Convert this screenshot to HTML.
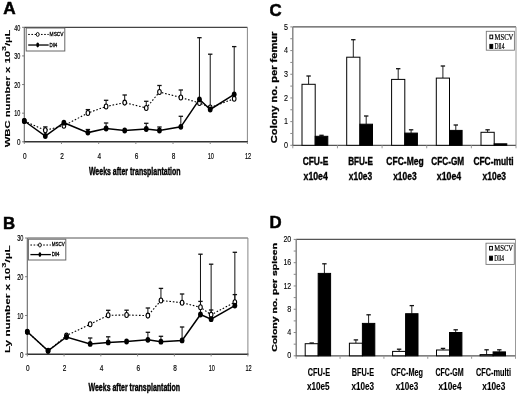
<!DOCTYPE html><html><head><meta charset="utf-8"><title>Figure</title><style>html,body{margin:0;padding:0;background:#fff;}body{width:520px;height:395px;overflow:hidden;}svg{display:block;filter:blur(0.3px);}</style></head><body>
<svg width="520" height="395" viewBox="0 0 520 395">
<rect x="0" y="0" width="520" height="395" fill="#fff"/>
<text x="3.20" y="13.90" font-size="17.2" font-family='"Liberation Sans", sans-serif' fill="#000" font-weight="bold" stroke="#000" stroke-width="0.5">A</text>
<text x="3.00" y="228.60" font-size="16.8" font-family='"Liberation Sans", sans-serif' fill="#000" font-weight="bold" stroke="#000" stroke-width="0.5">B</text>
<text x="269.40" y="15.60" font-size="16.8" font-family='"Liberation Sans", sans-serif' fill="#000" font-weight="bold" stroke="#000" stroke-width="0.5">C</text>
<text x="269.40" y="227.60" font-size="16.8" font-family='"Liberation Sans", sans-serif' fill="#000" font-weight="bold" stroke="#000" stroke-width="0.5">D</text>
<line x1="24.30" y1="27.30" x2="247.40" y2="27.30" stroke="#444" stroke-width="1.3" />
<line x1="247.40" y1="27.30" x2="247.40" y2="141.80" stroke="#888" stroke-width="1.0" />
<line x1="24.30" y1="27.30" x2="24.30" y2="142.30" stroke="#666" stroke-width="1.1" />
<line x1="23.80" y1="141.80" x2="247.90" y2="141.80" stroke="#333" stroke-width="1.4" />
<line x1="22.10" y1="141.80" x2="24.30" y2="141.80" stroke="#777" stroke-width="1" />
<text x="20.40" y="145.10" font-size="9.6" font-family='"Liberation Sans", sans-serif' fill="#000" text-anchor="end" textLength="3.5" lengthAdjust="spacingAndGlyphs" stroke="#000" stroke-width="0.2">0</text>
<line x1="22.10" y1="113.18" x2="24.30" y2="113.18" stroke="#777" stroke-width="1" />
<text x="20.40" y="116.48" font-size="9.6" font-family='"Liberation Sans", sans-serif' fill="#000" text-anchor="end" textLength="6.1" lengthAdjust="spacingAndGlyphs" stroke="#000" stroke-width="0.2">10</text>
<line x1="22.10" y1="84.55" x2="24.30" y2="84.55" stroke="#777" stroke-width="1" />
<text x="20.40" y="87.85" font-size="9.6" font-family='"Liberation Sans", sans-serif' fill="#000" text-anchor="end" textLength="6.1" lengthAdjust="spacingAndGlyphs" stroke="#000" stroke-width="0.2">20</text>
<line x1="22.10" y1="55.92" x2="24.30" y2="55.92" stroke="#777" stroke-width="1" />
<text x="20.40" y="59.22" font-size="9.6" font-family='"Liberation Sans", sans-serif' fill="#000" text-anchor="end" textLength="6.1" lengthAdjust="spacingAndGlyphs" stroke="#000" stroke-width="0.2">30</text>
<line x1="22.10" y1="27.30" x2="24.30" y2="27.30" stroke="#777" stroke-width="1" />
<text x="20.40" y="30.60" font-size="9.6" font-family='"Liberation Sans", sans-serif' fill="#000" text-anchor="end" textLength="6.1" lengthAdjust="spacingAndGlyphs" stroke="#000" stroke-width="0.2">40</text>
<line x1="24.30" y1="141.80" x2="24.30" y2="144.00" stroke="#888" stroke-width="1" />
<text x="24.90" y="158.70" font-size="9.6" font-family='"Liberation Sans", sans-serif' fill="#000" text-anchor="middle" textLength="3.6" lengthAdjust="spacingAndGlyphs" stroke="#000" stroke-width="0.2">0</text>
<line x1="61.48" y1="141.80" x2="61.48" y2="144.00" stroke="#888" stroke-width="1" />
<text x="62.08" y="158.70" font-size="9.6" font-family='"Liberation Sans", sans-serif' fill="#000" text-anchor="middle" textLength="3.6" lengthAdjust="spacingAndGlyphs" stroke="#000" stroke-width="0.2">2</text>
<line x1="98.67" y1="141.80" x2="98.67" y2="144.00" stroke="#888" stroke-width="1" />
<text x="99.27" y="158.70" font-size="9.6" font-family='"Liberation Sans", sans-serif' fill="#000" text-anchor="middle" textLength="3.6" lengthAdjust="spacingAndGlyphs" stroke="#000" stroke-width="0.2">4</text>
<line x1="135.85" y1="141.80" x2="135.85" y2="144.00" stroke="#888" stroke-width="1" />
<text x="136.45" y="158.70" font-size="9.6" font-family='"Liberation Sans", sans-serif' fill="#000" text-anchor="middle" textLength="3.6" lengthAdjust="spacingAndGlyphs" stroke="#000" stroke-width="0.2">6</text>
<line x1="173.03" y1="141.80" x2="173.03" y2="144.00" stroke="#888" stroke-width="1" />
<text x="173.63" y="158.70" font-size="9.6" font-family='"Liberation Sans", sans-serif' fill="#000" text-anchor="middle" textLength="3.6" lengthAdjust="spacingAndGlyphs" stroke="#000" stroke-width="0.2">8</text>
<line x1="210.22" y1="141.80" x2="210.22" y2="144.00" stroke="#888" stroke-width="1" />
<text x="210.82" y="158.70" font-size="9.6" font-family='"Liberation Sans", sans-serif' fill="#000" text-anchor="middle" textLength="6.2" lengthAdjust="spacingAndGlyphs" stroke="#000" stroke-width="0.2">10</text>
<line x1="247.40" y1="141.80" x2="247.40" y2="144.00" stroke="#888" stroke-width="1" />
<text x="248.00" y="158.70" font-size="9.6" font-family='"Liberation Sans", sans-serif' fill="#000" text-anchor="middle" textLength="6.2" lengthAdjust="spacingAndGlyphs" stroke="#000" stroke-width="0.2">12</text>
<text x="88.90" y="175.30" font-size="10.2" font-family='"Liberation Sans", sans-serif' fill="#000" font-weight="bold" textLength="91.6" lengthAdjust="spacingAndGlyphs" stroke="#000" stroke-width="0.4">Weeks after transplantation</text>
<text x="0" y="0" font-size="10.6" font-family='"Liberation Sans", sans-serif' font-weight="bold" stroke="#000" stroke-width="0.15" transform="translate(10.20 88.40) scale(0.7 1) rotate(-90)" text-anchor="middle" textLength="117.8" lengthAdjust="spacingAndGlyphs">WBC number x 10<tspan font-size="8.48" dy="-6.15">3</tspan><tspan dy="6.15">/µL</tspan></text>
<rect x="26.20" y="28.00" width="38.60" height="23.00" fill="#fff" stroke="#666" stroke-width="1"/>
<line x1="28.20" y1="34.44" x2="48.70" y2="34.44" stroke="#000" stroke-width="1" stroke-dasharray="1.6 1.6"/>
<ellipse cx="37.70" cy="34.44" rx="1.4" ry="2.0" fill="#fff" stroke="#000" stroke-width="0.9"/>
<line x1="28.20" y1="45.02" x2="48.70" y2="45.02" stroke="#000" stroke-width="1.3" />
<ellipse cx="37.70" cy="45.02" rx="1.4" ry="2.4" fill="#000"/>
<text x="49.60" y="35.54" font-size="6.2" font-family='"Liberation Sans", sans-serif' fill="#000" textLength="14.0" lengthAdjust="spacingAndGlyphs" stroke="#000" stroke-width="0.3">MSCV</text>
<text x="49.60" y="46.72" font-size="6.2" font-family='"Liberation Sans", sans-serif' fill="#000" textLength="7.6" lengthAdjust="spacingAndGlyphs" stroke="#000" stroke-width="0.3">Dll4</text>
<line x1="45.31" y1="130.30" x2="45.31" y2="126.90" stroke="#111" stroke-width="1.0" />
<line x1="43.11" y1="126.90" x2="47.51" y2="126.90" stroke="#111" stroke-width="1.3" />
<line x1="87.88" y1="113.00" x2="87.88" y2="109.60" stroke="#111" stroke-width="1.0" />
<line x1="85.68" y1="109.60" x2="90.08" y2="109.60" stroke="#111" stroke-width="1.3" />
<line x1="106.10" y1="106.50" x2="106.10" y2="100.30" stroke="#111" stroke-width="1.0" />
<line x1="103.90" y1="100.30" x2="108.30" y2="100.30" stroke="#111" stroke-width="1.3" />
<line x1="124.69" y1="102.60" x2="124.69" y2="95.00" stroke="#111" stroke-width="1.0" />
<line x1="122.49" y1="95.00" x2="126.89" y2="95.00" stroke="#111" stroke-width="1.3" />
<line x1="146.26" y1="108.00" x2="146.26" y2="101.30" stroke="#111" stroke-width="1.0" />
<line x1="144.06" y1="101.30" x2="148.46" y2="101.30" stroke="#111" stroke-width="1.3" />
<line x1="159.46" y1="92.00" x2="159.46" y2="85.50" stroke="#111" stroke-width="1.0" />
<line x1="157.26" y1="85.50" x2="161.66" y2="85.50" stroke="#111" stroke-width="1.3" />
<line x1="180.84" y1="97.50" x2="180.84" y2="90.00" stroke="#111" stroke-width="1.0" />
<line x1="178.64" y1="90.00" x2="183.04" y2="90.00" stroke="#111" stroke-width="1.3" />
<line x1="87.88" y1="132.60" x2="87.88" y2="129.50" stroke="#111" stroke-width="1.0" />
<line x1="85.68" y1="129.50" x2="90.08" y2="129.50" stroke="#111" stroke-width="1.3" />
<line x1="106.10" y1="128.50" x2="106.10" y2="123.00" stroke="#111" stroke-width="1.0" />
<line x1="103.90" y1="123.00" x2="108.30" y2="123.00" stroke="#111" stroke-width="1.3" />
<line x1="146.26" y1="129.00" x2="146.26" y2="123.30" stroke="#111" stroke-width="1.0" />
<line x1="144.06" y1="123.30" x2="148.46" y2="123.30" stroke="#111" stroke-width="1.3" />
<line x1="159.46" y1="130.50" x2="159.46" y2="127.00" stroke="#111" stroke-width="1.0" />
<line x1="157.26" y1="127.00" x2="161.66" y2="127.00" stroke="#111" stroke-width="1.3" />
<line x1="180.84" y1="126.80" x2="180.84" y2="116.30" stroke="#111" stroke-width="1.0" />
<line x1="178.64" y1="116.30" x2="183.04" y2="116.30" stroke="#111" stroke-width="1.3" />
<line x1="199.43" y1="99.30" x2="199.43" y2="37.70" stroke="#111" stroke-width="1.0" />
<line x1="197.23" y1="37.70" x2="201.63" y2="37.70" stroke="#111" stroke-width="1.3" />
<line x1="210.22" y1="109.50" x2="210.22" y2="54.20" stroke="#111" stroke-width="1.0" />
<line x1="208.02" y1="54.20" x2="212.42" y2="54.20" stroke="#111" stroke-width="1.3" />
<line x1="234.20" y1="94.30" x2="234.20" y2="46.60" stroke="#111" stroke-width="1.0" />
<line x1="232.00" y1="46.60" x2="236.40" y2="46.60" stroke="#111" stroke-width="1.3" />
<polyline points="24.30,121.00 45.31,130.30 63.90,125.70 87.88,113.00 106.10,106.50 124.69,102.60 146.26,108.00 159.46,92.00 180.84,97.50 199.43,103.00 210.22,107.50 234.20,98.75" fill="none" stroke="#000" stroke-width="1.1" stroke-dasharray="1.6 1.8"/>
<polyline points="24.30,121.00 45.31,136.00 63.90,122.70 87.88,132.60 106.10,128.50 124.69,130.50 146.26,129.00 159.46,130.50 180.84,126.80 199.43,99.30 210.22,109.50 234.20,94.30" fill="none" stroke="#000" stroke-width="1.5"/>
<ellipse cx="24.30" cy="121.00" rx="1.8" ry="2.5" fill="#fff" stroke="#000" stroke-width="1.1"/>
<ellipse cx="45.31" cy="130.30" rx="1.8" ry="2.5" fill="#fff" stroke="#000" stroke-width="1.1"/>
<ellipse cx="63.90" cy="125.70" rx="1.8" ry="2.5" fill="#fff" stroke="#000" stroke-width="1.1"/>
<ellipse cx="87.88" cy="113.00" rx="1.8" ry="2.5" fill="#fff" stroke="#000" stroke-width="1.1"/>
<ellipse cx="106.10" cy="106.50" rx="1.8" ry="2.5" fill="#fff" stroke="#000" stroke-width="1.1"/>
<ellipse cx="124.69" cy="102.60" rx="1.8" ry="2.5" fill="#fff" stroke="#000" stroke-width="1.1"/>
<ellipse cx="146.26" cy="108.00" rx="1.8" ry="2.5" fill="#fff" stroke="#000" stroke-width="1.1"/>
<ellipse cx="159.46" cy="92.00" rx="1.8" ry="2.5" fill="#fff" stroke="#000" stroke-width="1.1"/>
<ellipse cx="180.84" cy="97.50" rx="1.8" ry="2.5" fill="#fff" stroke="#000" stroke-width="1.1"/>
<ellipse cx="199.43" cy="103.00" rx="1.8" ry="2.5" fill="#fff" stroke="#000" stroke-width="1.1"/>
<ellipse cx="210.22" cy="107.50" rx="1.8" ry="2.5" fill="#fff" stroke="#000" stroke-width="1.1"/>
<ellipse cx="234.20" cy="98.75" rx="1.8" ry="2.5" fill="#fff" stroke="#000" stroke-width="1.1"/>
<ellipse cx="24.30" cy="121.00" rx="2.4" ry="2.9" fill="#000"/>
<ellipse cx="45.31" cy="136.00" rx="2.4" ry="2.9" fill="#000"/>
<ellipse cx="63.90" cy="122.70" rx="2.4" ry="2.9" fill="#000"/>
<ellipse cx="87.88" cy="132.60" rx="2.4" ry="2.9" fill="#000"/>
<ellipse cx="106.10" cy="128.50" rx="2.4" ry="2.9" fill="#000"/>
<ellipse cx="124.69" cy="130.50" rx="2.4" ry="2.9" fill="#000"/>
<ellipse cx="146.26" cy="129.00" rx="2.4" ry="2.9" fill="#000"/>
<ellipse cx="159.46" cy="130.50" rx="2.4" ry="2.9" fill="#000"/>
<ellipse cx="180.84" cy="126.80" rx="2.4" ry="2.9" fill="#000"/>
<ellipse cx="199.43" cy="99.30" rx="2.4" ry="2.9" fill="#000"/>
<ellipse cx="210.22" cy="109.50" rx="2.4" ry="2.9" fill="#000"/>
<ellipse cx="234.20" cy="94.30" rx="2.4" ry="2.9" fill="#000"/>
<line x1="27.30" y1="238.00" x2="247.90" y2="238.00" stroke="#555" stroke-width="1.0" />
<line x1="247.90" y1="238.00" x2="247.90" y2="354.20" stroke="#888" stroke-width="1.0" />
<line x1="27.30" y1="238.00" x2="27.30" y2="354.70" stroke="#666" stroke-width="1.1" />
<line x1="26.80" y1="354.20" x2="248.40" y2="354.20" stroke="#333" stroke-width="1.4" />
<line x1="25.10" y1="354.20" x2="27.30" y2="354.20" stroke="#777" stroke-width="1" />
<text x="23.40" y="357.50" font-size="9.6" font-family='"Liberation Sans", sans-serif' fill="#000" text-anchor="end" textLength="3.5" lengthAdjust="spacingAndGlyphs" stroke="#000" stroke-width="0.2">0</text>
<line x1="25.10" y1="315.47" x2="27.30" y2="315.47" stroke="#777" stroke-width="1" />
<text x="23.40" y="318.77" font-size="9.6" font-family='"Liberation Sans", sans-serif' fill="#000" text-anchor="end" textLength="6.2" lengthAdjust="spacingAndGlyphs" stroke="#000" stroke-width="0.2">10</text>
<line x1="25.10" y1="276.73" x2="27.30" y2="276.73" stroke="#777" stroke-width="1" />
<text x="23.40" y="280.03" font-size="9.6" font-family='"Liberation Sans", sans-serif' fill="#000" text-anchor="end" textLength="6.2" lengthAdjust="spacingAndGlyphs" stroke="#000" stroke-width="0.2">20</text>
<line x1="25.10" y1="238.00" x2="27.30" y2="238.00" stroke="#777" stroke-width="1" />
<text x="23.40" y="241.30" font-size="9.6" font-family='"Liberation Sans", sans-serif' fill="#000" text-anchor="end" textLength="6.2" lengthAdjust="spacingAndGlyphs" stroke="#000" stroke-width="0.2">30</text>
<line x1="27.30" y1="354.20" x2="27.30" y2="356.40" stroke="#888" stroke-width="1" />
<text x="27.90" y="371.10" font-size="9.6" font-family='"Liberation Sans", sans-serif' fill="#000" text-anchor="middle" textLength="3.6" lengthAdjust="spacingAndGlyphs" stroke="#000" stroke-width="0.2">0</text>
<line x1="64.07" y1="354.20" x2="64.07" y2="356.40" stroke="#888" stroke-width="1" />
<text x="64.67" y="371.10" font-size="9.6" font-family='"Liberation Sans", sans-serif' fill="#000" text-anchor="middle" textLength="3.6" lengthAdjust="spacingAndGlyphs" stroke="#000" stroke-width="0.2">2</text>
<line x1="100.83" y1="354.20" x2="100.83" y2="356.40" stroke="#888" stroke-width="1" />
<text x="101.43" y="371.10" font-size="9.6" font-family='"Liberation Sans", sans-serif' fill="#000" text-anchor="middle" textLength="3.6" lengthAdjust="spacingAndGlyphs" stroke="#000" stroke-width="0.2">4</text>
<line x1="137.60" y1="354.20" x2="137.60" y2="356.40" stroke="#888" stroke-width="1" />
<text x="138.20" y="371.10" font-size="9.6" font-family='"Liberation Sans", sans-serif' fill="#000" text-anchor="middle" textLength="3.6" lengthAdjust="spacingAndGlyphs" stroke="#000" stroke-width="0.2">6</text>
<line x1="174.37" y1="354.20" x2="174.37" y2="356.40" stroke="#888" stroke-width="1" />
<text x="174.97" y="371.10" font-size="9.6" font-family='"Liberation Sans", sans-serif' fill="#000" text-anchor="middle" textLength="3.6" lengthAdjust="spacingAndGlyphs" stroke="#000" stroke-width="0.2">8</text>
<line x1="211.13" y1="354.20" x2="211.13" y2="356.40" stroke="#888" stroke-width="1" />
<text x="211.73" y="371.10" font-size="9.6" font-family='"Liberation Sans", sans-serif' fill="#000" text-anchor="middle" textLength="6.2" lengthAdjust="spacingAndGlyphs" stroke="#000" stroke-width="0.2">10</text>
<line x1="247.90" y1="354.20" x2="247.90" y2="356.40" stroke="#888" stroke-width="1" />
<text x="248.50" y="371.10" font-size="9.6" font-family='"Liberation Sans", sans-serif' fill="#000" text-anchor="middle" textLength="6.2" lengthAdjust="spacingAndGlyphs" stroke="#000" stroke-width="0.2">12</text>
<text x="88.50" y="391.20" font-size="10.2" font-family='"Liberation Sans", sans-serif' fill="#000" font-weight="bold" textLength="91.6" lengthAdjust="spacingAndGlyphs" stroke="#000" stroke-width="0.4">Weeks after transplantation</text>
<text x="0" y="0" font-size="10.6" font-family='"Liberation Sans", sans-serif' font-weight="bold" stroke="#000" stroke-width="0.15" transform="translate(10.20 299.20) scale(0.7 1) rotate(-90)" text-anchor="middle" textLength="107.8" lengthAdjust="spacingAndGlyphs">Ly number x 10<tspan font-size="8.48" dy="-6.15">3</tspan><tspan dy="6.15">/µL</tspan></text>
<rect x="28.40" y="239.20" width="37.40" height="20.80" fill="#fff" stroke="#666" stroke-width="1"/>
<line x1="30.40" y1="245.02" x2="50.90" y2="245.02" stroke="#000" stroke-width="1" stroke-dasharray="1.6 1.6"/>
<ellipse cx="39.90" cy="245.02" rx="1.4" ry="2.0" fill="#fff" stroke="#000" stroke-width="0.9"/>
<line x1="30.40" y1="254.59" x2="50.90" y2="254.59" stroke="#000" stroke-width="1.3" />
<ellipse cx="39.90" cy="254.59" rx="1.4" ry="2.4" fill="#000"/>
<text x="51.80" y="246.12" font-size="6.2" font-family='"Liberation Sans", sans-serif' fill="#000" textLength="13.0" lengthAdjust="spacingAndGlyphs" stroke="#000" stroke-width="0.3">MSCV</text>
<text x="51.80" y="255.69" font-size="6.2" font-family='"Liberation Sans", sans-serif' fill="#000" textLength="7.6" lengthAdjust="spacingAndGlyphs" stroke="#000" stroke-width="0.3">Dll4</text>
<line x1="108.19" y1="315.30" x2="108.19" y2="310.30" stroke="#111" stroke-width="1.0" />
<line x1="105.99" y1="310.30" x2="110.39" y2="310.30" stroke="#111" stroke-width="1.3" />
<line x1="126.57" y1="315.00" x2="126.57" y2="310.20" stroke="#111" stroke-width="1.0" />
<line x1="124.37" y1="310.20" x2="128.77" y2="310.20" stroke="#111" stroke-width="1.3" />
<line x1="147.89" y1="315.60" x2="147.89" y2="308.00" stroke="#111" stroke-width="1.0" />
<line x1="145.69" y1="308.00" x2="150.09" y2="308.00" stroke="#111" stroke-width="1.3" />
<line x1="160.95" y1="300.50" x2="160.95" y2="288.40" stroke="#111" stroke-width="1.0" />
<line x1="158.75" y1="288.40" x2="163.15" y2="288.40" stroke="#111" stroke-width="1.3" />
<line x1="182.09" y1="302.70" x2="182.09" y2="294.00" stroke="#111" stroke-width="1.0" />
<line x1="179.89" y1="294.00" x2="184.29" y2="294.00" stroke="#111" stroke-width="1.3" />
<line x1="200.47" y1="307.30" x2="200.47" y2="301.40" stroke="#111" stroke-width="1.0" />
<line x1="198.27" y1="301.40" x2="202.67" y2="301.40" stroke="#111" stroke-width="1.3" />
<line x1="211.13" y1="314.80" x2="211.13" y2="310.00" stroke="#111" stroke-width="1.0" />
<line x1="208.93" y1="310.00" x2="213.33" y2="310.00" stroke="#111" stroke-width="1.3" />
<line x1="234.85" y1="302.20" x2="234.85" y2="294.60" stroke="#111" stroke-width="1.0" />
<line x1="232.65" y1="294.60" x2="237.05" y2="294.60" stroke="#111" stroke-width="1.3" />
<line x1="90.17" y1="343.90" x2="90.17" y2="338.00" stroke="#111" stroke-width="1.0" />
<line x1="87.97" y1="338.00" x2="92.37" y2="338.00" stroke="#111" stroke-width="1.3" />
<line x1="108.19" y1="342.40" x2="108.19" y2="336.80" stroke="#111" stroke-width="1.0" />
<line x1="105.99" y1="336.80" x2="110.39" y2="336.80" stroke="#111" stroke-width="1.3" />
<line x1="147.89" y1="339.80" x2="147.89" y2="332.30" stroke="#111" stroke-width="1.0" />
<line x1="145.69" y1="332.30" x2="150.09" y2="332.30" stroke="#111" stroke-width="1.3" />
<line x1="160.95" y1="341.70" x2="160.95" y2="336.30" stroke="#111" stroke-width="1.0" />
<line x1="158.75" y1="336.30" x2="163.15" y2="336.30" stroke="#111" stroke-width="1.3" />
<line x1="182.09" y1="340.40" x2="182.09" y2="327.00" stroke="#111" stroke-width="1.0" />
<line x1="179.89" y1="327.00" x2="184.29" y2="327.00" stroke="#111" stroke-width="1.3" />
<line x1="200.47" y1="314.50" x2="200.47" y2="254.20" stroke="#111" stroke-width="1.0" />
<line x1="198.27" y1="254.20" x2="202.67" y2="254.20" stroke="#111" stroke-width="1.3" />
<line x1="211.13" y1="319.20" x2="211.13" y2="264.20" stroke="#111" stroke-width="1.0" />
<line x1="208.93" y1="264.20" x2="213.33" y2="264.20" stroke="#111" stroke-width="1.3" />
<line x1="234.85" y1="305.60" x2="234.85" y2="252.30" stroke="#111" stroke-width="1.0" />
<line x1="232.65" y1="252.30" x2="237.05" y2="252.30" stroke="#111" stroke-width="1.3" />
<polyline points="27.30,331.80 48.07,350.80 66.46,335.60 90.17,324.20 108.19,315.30 126.57,315.00 147.89,315.60 160.95,300.50 182.09,302.70 200.47,307.30 211.13,314.80 234.85,302.20" fill="none" stroke="#000" stroke-width="1.1" stroke-dasharray="1.6 1.8"/>
<polyline points="27.30,331.80 48.07,350.80 66.46,337.00 90.17,343.90 108.19,342.40 126.57,341.50 147.89,339.80 160.95,341.70 182.09,340.40 200.47,314.50 211.13,319.20 234.85,305.60" fill="none" stroke="#000" stroke-width="1.5"/>
<ellipse cx="27.30" cy="331.80" rx="1.8" ry="2.5" fill="#fff" stroke="#000" stroke-width="1.1"/>
<ellipse cx="48.07" cy="350.80" rx="1.8" ry="2.5" fill="#fff" stroke="#000" stroke-width="1.1"/>
<ellipse cx="66.46" cy="335.60" rx="1.8" ry="2.5" fill="#fff" stroke="#000" stroke-width="1.1"/>
<ellipse cx="90.17" cy="324.20" rx="1.8" ry="2.5" fill="#fff" stroke="#000" stroke-width="1.1"/>
<ellipse cx="108.19" cy="315.30" rx="1.8" ry="2.5" fill="#fff" stroke="#000" stroke-width="1.1"/>
<ellipse cx="126.57" cy="315.00" rx="1.8" ry="2.5" fill="#fff" stroke="#000" stroke-width="1.1"/>
<ellipse cx="147.89" cy="315.60" rx="1.8" ry="2.5" fill="#fff" stroke="#000" stroke-width="1.1"/>
<ellipse cx="160.95" cy="300.50" rx="1.8" ry="2.5" fill="#fff" stroke="#000" stroke-width="1.1"/>
<ellipse cx="182.09" cy="302.70" rx="1.8" ry="2.5" fill="#fff" stroke="#000" stroke-width="1.1"/>
<ellipse cx="200.47" cy="307.30" rx="1.8" ry="2.5" fill="#fff" stroke="#000" stroke-width="1.1"/>
<ellipse cx="211.13" cy="314.80" rx="1.8" ry="2.5" fill="#fff" stroke="#000" stroke-width="1.1"/>
<ellipse cx="234.85" cy="302.20" rx="1.8" ry="2.5" fill="#fff" stroke="#000" stroke-width="1.1"/>
<ellipse cx="27.30" cy="331.80" rx="2.4" ry="2.9" fill="#000"/>
<ellipse cx="48.07" cy="350.80" rx="2.4" ry="2.9" fill="#000"/>
<ellipse cx="66.46" cy="337.00" rx="2.4" ry="2.9" fill="#000"/>
<ellipse cx="90.17" cy="343.90" rx="2.4" ry="2.9" fill="#000"/>
<ellipse cx="108.19" cy="342.40" rx="2.4" ry="2.9" fill="#000"/>
<ellipse cx="126.57" cy="341.50" rx="2.4" ry="2.9" fill="#000"/>
<ellipse cx="147.89" cy="339.80" rx="2.4" ry="2.9" fill="#000"/>
<ellipse cx="160.95" cy="341.70" rx="2.4" ry="2.9" fill="#000"/>
<ellipse cx="182.09" cy="340.40" rx="2.4" ry="2.9" fill="#000"/>
<ellipse cx="200.47" cy="314.50" rx="2.4" ry="2.9" fill="#000"/>
<ellipse cx="211.13" cy="319.20" rx="2.4" ry="2.9" fill="#000"/>
<ellipse cx="234.85" cy="305.60" rx="2.4" ry="2.9" fill="#000"/>
<line x1="292.80" y1="26.90" x2="516.00" y2="26.90" stroke="#555" stroke-width="1.3" />
<line x1="516.00" y1="26.90" x2="516.00" y2="145.30" stroke="#999" stroke-width="1.0" />
<line x1="292.80" y1="26.90" x2="292.80" y2="145.80" stroke="#777" stroke-width="1.3" />
<line x1="292.30" y1="145.30" x2="516.00" y2="145.30" stroke="#555" stroke-width="1.2" />
<line x1="290.30" y1="145.30" x2="292.80" y2="145.30" stroke="#888" stroke-width="1" />
<line x1="290.30" y1="133.46" x2="292.80" y2="133.46" stroke="#888" stroke-width="1" />
<line x1="290.30" y1="121.62" x2="292.80" y2="121.62" stroke="#888" stroke-width="1" />
<line x1="290.30" y1="109.78" x2="292.80" y2="109.78" stroke="#888" stroke-width="1" />
<line x1="290.30" y1="97.94" x2="292.80" y2="97.94" stroke="#888" stroke-width="1" />
<line x1="290.30" y1="86.10" x2="292.80" y2="86.10" stroke="#888" stroke-width="1" />
<line x1="290.30" y1="74.26" x2="292.80" y2="74.26" stroke="#888" stroke-width="1" />
<line x1="290.30" y1="62.42" x2="292.80" y2="62.42" stroke="#888" stroke-width="1" />
<line x1="290.30" y1="50.58" x2="292.80" y2="50.58" stroke="#888" stroke-width="1" />
<line x1="290.30" y1="38.74" x2="292.80" y2="38.74" stroke="#888" stroke-width="1" />
<line x1="290.30" y1="26.90" x2="292.80" y2="26.90" stroke="#888" stroke-width="1" />
<text x="288.00" y="147.90" font-size="9.6" font-family='"Liberation Sans", sans-serif' fill="#000" text-anchor="end" textLength="4.0" lengthAdjust="spacingAndGlyphs" stroke="#000" stroke-width="0.12">0</text>
<text x="288.00" y="124.22" font-size="9.6" font-family='"Liberation Sans", sans-serif' fill="#000" text-anchor="end" textLength="4.0" lengthAdjust="spacingAndGlyphs" stroke="#000" stroke-width="0.12">1</text>
<text x="288.00" y="100.54" font-size="9.6" font-family='"Liberation Sans", sans-serif' fill="#000" text-anchor="end" textLength="4.0" lengthAdjust="spacingAndGlyphs" stroke="#000" stroke-width="0.12">2</text>
<text x="288.00" y="76.86" font-size="9.6" font-family='"Liberation Sans", sans-serif' fill="#000" text-anchor="end" textLength="4.0" lengthAdjust="spacingAndGlyphs" stroke="#000" stroke-width="0.12">3</text>
<text x="288.00" y="53.18" font-size="9.6" font-family='"Liberation Sans", sans-serif' fill="#000" text-anchor="end" textLength="4.0" lengthAdjust="spacingAndGlyphs" stroke="#000" stroke-width="0.12">4</text>
<text x="288.00" y="29.50" font-size="9.6" font-family='"Liberation Sans", sans-serif' fill="#000" text-anchor="end" textLength="4.0" lengthAdjust="spacingAndGlyphs" stroke="#000" stroke-width="0.12">5</text>
<line x1="292.80" y1="145.30" x2="292.80" y2="148.30" stroke="#999" stroke-width="1" />
<line x1="337.44" y1="145.30" x2="337.44" y2="148.30" stroke="#999" stroke-width="1" />
<line x1="382.08" y1="145.30" x2="382.08" y2="148.30" stroke="#999" stroke-width="1" />
<line x1="426.72" y1="145.30" x2="426.72" y2="148.30" stroke="#999" stroke-width="1" />
<line x1="471.36" y1="145.30" x2="471.36" y2="148.30" stroke="#999" stroke-width="1" />
<line x1="516.00" y1="145.30" x2="516.00" y2="148.30" stroke="#999" stroke-width="1" />
<line x1="308.60" y1="84.30" x2="308.60" y2="76.00" stroke="#222" stroke-width="1.0" />
<line x1="306.40" y1="76.00" x2="310.80" y2="76.00" stroke="#111" stroke-width="1.3" />
<line x1="321.50" y1="136.30" x2="321.50" y2="135.30" stroke="#222" stroke-width="1.0" />
<line x1="319.30" y1="135.30" x2="323.70" y2="135.30" stroke="#111" stroke-width="1.3" />
<rect x="302.00" y="84.30" width="13.20" height="61.00" fill="#fff" stroke="#000" stroke-width="1.0"/>
<rect x="315.20" y="136.30" width="12.60" height="9.00" fill="#000" stroke="#000" stroke-width="1.0"/>
<text x="315.50" y="165.20" font-size="10.4" font-family='"Liberation Sans", sans-serif' fill="#000" font-weight="bold" text-anchor="middle" textLength="25.700000000000003" lengthAdjust="spacingAndGlyphs" stroke="#000" stroke-width="0.35">CFU-E</text>
<text x="315.70" y="180.10" font-size="10.4" font-family='"Liberation Sans", sans-serif' fill="#000" font-weight="bold" text-anchor="middle" textLength="24.3" lengthAdjust="spacingAndGlyphs" stroke="#000" stroke-width="0.35">x10e4</text>
<line x1="353.30" y1="57.20" x2="353.30" y2="39.70" stroke="#222" stroke-width="1.0" />
<line x1="351.10" y1="39.70" x2="355.50" y2="39.70" stroke="#111" stroke-width="1.3" />
<line x1="366.20" y1="124.20" x2="366.20" y2="116.00" stroke="#222" stroke-width="1.0" />
<line x1="364.00" y1="116.00" x2="368.40" y2="116.00" stroke="#111" stroke-width="1.3" />
<rect x="346.70" y="57.20" width="13.20" height="88.10" fill="#fff" stroke="#000" stroke-width="1.0"/>
<rect x="359.90" y="124.20" width="12.60" height="21.10" fill="#000" stroke="#000" stroke-width="1.0"/>
<text x="360.60" y="165.20" font-size="10.4" font-family='"Liberation Sans", sans-serif' fill="#000" font-weight="bold" text-anchor="middle" textLength="24.8" lengthAdjust="spacingAndGlyphs" stroke="#000" stroke-width="0.35">BFU-E</text>
<text x="360.50" y="180.10" font-size="10.4" font-family='"Liberation Sans", sans-serif' fill="#000" font-weight="bold" text-anchor="middle" textLength="23.3" lengthAdjust="spacingAndGlyphs" stroke="#000" stroke-width="0.35">x10e3</text>
<line x1="398.20" y1="79.40" x2="398.20" y2="68.70" stroke="#222" stroke-width="1.0" />
<line x1="396.00" y1="68.70" x2="400.40" y2="68.70" stroke="#111" stroke-width="1.3" />
<line x1="411.10" y1="133.10" x2="411.10" y2="129.80" stroke="#222" stroke-width="1.0" />
<line x1="408.90" y1="129.80" x2="413.30" y2="129.80" stroke="#111" stroke-width="1.3" />
<rect x="391.60" y="79.40" width="13.20" height="65.90" fill="#fff" stroke="#000" stroke-width="1.0"/>
<rect x="404.80" y="133.10" width="12.60" height="12.20" fill="#000" stroke="#000" stroke-width="1.0"/>
<text x="405.00" y="165.20" font-size="10.4" font-family='"Liberation Sans", sans-serif' fill="#000" font-weight="bold" text-anchor="middle" textLength="37.300000000000004" lengthAdjust="spacingAndGlyphs" stroke="#000" stroke-width="0.35">CFC-Meg</text>
<text x="404.90" y="180.10" font-size="10.4" font-family='"Liberation Sans", sans-serif' fill="#000" font-weight="bold" text-anchor="middle" textLength="23.400000000000002" lengthAdjust="spacingAndGlyphs" stroke="#000" stroke-width="0.35">x10e3</text>
<line x1="442.90" y1="78.10" x2="442.90" y2="66.00" stroke="#222" stroke-width="1.0" />
<line x1="440.70" y1="66.00" x2="445.10" y2="66.00" stroke="#111" stroke-width="1.3" />
<line x1="455.80" y1="130.40" x2="455.80" y2="125.00" stroke="#222" stroke-width="1.0" />
<line x1="453.60" y1="125.00" x2="458.00" y2="125.00" stroke="#111" stroke-width="1.3" />
<rect x="436.30" y="78.10" width="13.20" height="67.20" fill="#fff" stroke="#000" stroke-width="1.0"/>
<rect x="449.50" y="130.40" width="12.60" height="14.90" fill="#000" stroke="#000" stroke-width="1.0"/>
<text x="447.70" y="165.20" font-size="10.4" font-family='"Liberation Sans", sans-serif' fill="#000" font-weight="bold" text-anchor="middle" textLength="32.9" lengthAdjust="spacingAndGlyphs" stroke="#000" stroke-width="0.35">CFC-GM</text>
<text x="449.00" y="180.10" font-size="10.4" font-family='"Liberation Sans", sans-serif' fill="#000" font-weight="bold" text-anchor="middle" textLength="24.3" lengthAdjust="spacingAndGlyphs" stroke="#000" stroke-width="0.35">x10e4</text>
<line x1="487.60" y1="132.30" x2="487.60" y2="129.80" stroke="#222" stroke-width="1.0" />
<line x1="485.40" y1="129.80" x2="489.80" y2="129.80" stroke="#111" stroke-width="1.3" />
<rect x="481.00" y="132.30" width="13.20" height="13.00" fill="#fff" stroke="#000" stroke-width="1.0"/>
<rect x="494.20" y="143.80" width="12.60" height="1.50" fill="#000" stroke="#000" stroke-width="1.0"/>
<text x="493.50" y="165.20" font-size="10.4" font-family='"Liberation Sans", sans-serif' fill="#000" font-weight="bold" text-anchor="middle" textLength="40.2" lengthAdjust="spacingAndGlyphs" stroke="#000" stroke-width="0.35">CFC-multi</text>
<text x="494.30" y="180.10" font-size="10.4" font-family='"Liberation Sans", sans-serif' fill="#000" font-weight="bold" text-anchor="middle" textLength="23.400000000000002" lengthAdjust="spacingAndGlyphs" stroke="#000" stroke-width="0.35">x10e3</text>
<text x="0" y="0" font-size="10.4" font-family='"Liberation Sans", sans-serif' font-weight="bold" stroke="#000" stroke-width="0.35" transform="translate(276.80 87.40) scale(0.86 1) rotate(-90)" text-anchor="middle" textLength="111.5" lengthAdjust="spacingAndGlyphs">Colony no. per femur</text>
<rect x="486.30" y="31.30" width="28.10" height="18.90" fill="#fff" stroke="#777" stroke-width="0.9"/>
<rect x="489.90" y="35.10" width="2.80" height="3.60" fill="#fff" stroke="#000" stroke-width="1"/>
<rect x="489.90" y="44.40" width="2.80" height="4.00" fill="#000" stroke="#000" stroke-width="1"/>
<text x="494.60" y="39.50" font-size="7.5" font-family='"Liberation Serif", serif' fill="#000" textLength="18.8" lengthAdjust="spacingAndGlyphs" stroke="#000" stroke-width="0.2">MSCV</text>
<text x="494.60" y="49.00" font-size="7.5" font-family='"Liberation Serif", serif' fill="#000" textLength="9.8" lengthAdjust="spacingAndGlyphs" stroke="#000" stroke-width="0.2">Dll4</text>
<line x1="296.20" y1="239.40" x2="515.50" y2="239.40" stroke="#555" stroke-width="1.3" />
<line x1="515.50" y1="239.40" x2="515.50" y2="355.80" stroke="#999" stroke-width="1.0" />
<line x1="296.20" y1="239.40" x2="296.20" y2="356.30" stroke="#777" stroke-width="1.3" />
<line x1="295.70" y1="355.80" x2="515.50" y2="355.80" stroke="#555" stroke-width="1.2" />
<line x1="293.70" y1="355.80" x2="296.20" y2="355.80" stroke="#888" stroke-width="1" />
<line x1="293.70" y1="344.16" x2="296.20" y2="344.16" stroke="#888" stroke-width="1" />
<line x1="293.70" y1="332.52" x2="296.20" y2="332.52" stroke="#888" stroke-width="1" />
<line x1="293.70" y1="320.88" x2="296.20" y2="320.88" stroke="#888" stroke-width="1" />
<line x1="293.70" y1="309.24" x2="296.20" y2="309.24" stroke="#888" stroke-width="1" />
<line x1="293.70" y1="297.60" x2="296.20" y2="297.60" stroke="#888" stroke-width="1" />
<line x1="293.70" y1="285.96" x2="296.20" y2="285.96" stroke="#888" stroke-width="1" />
<line x1="293.70" y1="274.32" x2="296.20" y2="274.32" stroke="#888" stroke-width="1" />
<line x1="293.70" y1="262.68" x2="296.20" y2="262.68" stroke="#888" stroke-width="1" />
<line x1="293.70" y1="251.04" x2="296.20" y2="251.04" stroke="#888" stroke-width="1" />
<line x1="293.70" y1="239.40" x2="296.20" y2="239.40" stroke="#888" stroke-width="1" />
<text x="291.20" y="358.40" font-size="9.6" font-family='"Liberation Sans", sans-serif' fill="#000" text-anchor="end" textLength="4.0" lengthAdjust="spacingAndGlyphs" stroke="#000" stroke-width="0.12">0</text>
<text x="291.20" y="335.12" font-size="9.6" font-family='"Liberation Sans", sans-serif' fill="#000" text-anchor="end" textLength="4.0" lengthAdjust="spacingAndGlyphs" stroke="#000" stroke-width="0.12">4</text>
<text x="291.20" y="311.84" font-size="9.6" font-family='"Liberation Sans", sans-serif' fill="#000" text-anchor="end" textLength="4.0" lengthAdjust="spacingAndGlyphs" stroke="#000" stroke-width="0.12">8</text>
<text x="291.20" y="288.56" font-size="9.6" font-family='"Liberation Sans", sans-serif' fill="#000" text-anchor="end" textLength="7.8" lengthAdjust="spacingAndGlyphs" stroke="#000" stroke-width="0.12">12</text>
<text x="291.20" y="265.28" font-size="9.6" font-family='"Liberation Sans", sans-serif' fill="#000" text-anchor="end" textLength="7.8" lengthAdjust="spacingAndGlyphs" stroke="#000" stroke-width="0.12">16</text>
<text x="291.20" y="242.00" font-size="9.6" font-family='"Liberation Sans", sans-serif' fill="#000" text-anchor="end" textLength="7.8" lengthAdjust="spacingAndGlyphs" stroke="#000" stroke-width="0.12">20</text>
<line x1="296.20" y1="355.80" x2="296.20" y2="358.80" stroke="#999" stroke-width="1" />
<line x1="340.06" y1="355.80" x2="340.06" y2="358.80" stroke="#999" stroke-width="1" />
<line x1="383.92" y1="355.80" x2="383.92" y2="358.80" stroke="#999" stroke-width="1" />
<line x1="427.78" y1="355.80" x2="427.78" y2="358.80" stroke="#999" stroke-width="1" />
<line x1="471.64" y1="355.80" x2="471.64" y2="358.80" stroke="#999" stroke-width="1" />
<line x1="515.50" y1="355.80" x2="515.50" y2="358.80" stroke="#999" stroke-width="1" />
<line x1="311.70" y1="343.70" x2="311.70" y2="343.00" stroke="#222" stroke-width="1.0" />
<line x1="309.50" y1="343.00" x2="313.90" y2="343.00" stroke="#111" stroke-width="1.3" />
<line x1="324.40" y1="273.40" x2="324.40" y2="263.80" stroke="#222" stroke-width="1.0" />
<line x1="322.20" y1="263.80" x2="326.60" y2="263.80" stroke="#111" stroke-width="1.3" />
<rect x="305.20" y="343.70" width="13.00" height="12.10" fill="#fff" stroke="#000" stroke-width="1.0"/>
<rect x="318.20" y="273.40" width="12.40" height="82.40" fill="#000" stroke="#000" stroke-width="1.0"/>
<text x="319.00" y="375.60" font-size="10.3" font-family='"Liberation Sans", sans-serif' fill="#000" font-weight="bold" text-anchor="middle" textLength="22.400000000000002" lengthAdjust="spacingAndGlyphs" stroke="#000" stroke-width="0.15">CFU-E</text>
<text x="318.30" y="389.50" font-size="10.3" font-family='"Liberation Sans", sans-serif' fill="#000" font-weight="bold" text-anchor="middle" textLength="22.6" lengthAdjust="spacingAndGlyphs" stroke="#000" stroke-width="0.15">x10e5</text>
<line x1="355.90" y1="343.20" x2="355.90" y2="339.90" stroke="#222" stroke-width="1.0" />
<line x1="353.70" y1="339.90" x2="358.10" y2="339.90" stroke="#111" stroke-width="1.3" />
<line x1="368.60" y1="323.40" x2="368.60" y2="314.80" stroke="#222" stroke-width="1.0" />
<line x1="366.40" y1="314.80" x2="370.80" y2="314.80" stroke="#111" stroke-width="1.3" />
<rect x="349.40" y="343.20" width="13.00" height="12.60" fill="#fff" stroke="#000" stroke-width="1.0"/>
<rect x="362.40" y="323.40" width="12.40" height="32.40" fill="#000" stroke="#000" stroke-width="1.0"/>
<text x="362.90" y="375.60" font-size="10.3" font-family='"Liberation Sans", sans-serif' fill="#000" font-weight="bold" text-anchor="middle" textLength="22.200000000000003" lengthAdjust="spacingAndGlyphs" stroke="#000" stroke-width="0.15">BFU-E</text>
<text x="362.70" y="389.50" font-size="10.3" font-family='"Liberation Sans", sans-serif' fill="#000" font-weight="bold" text-anchor="middle" textLength="22.6" lengthAdjust="spacingAndGlyphs" stroke="#000" stroke-width="0.15">x10e3</text>
<line x1="399.10" y1="351.40" x2="399.10" y2="349.20" stroke="#222" stroke-width="1.0" />
<line x1="396.90" y1="349.20" x2="401.30" y2="349.20" stroke="#111" stroke-width="1.3" />
<line x1="411.80" y1="313.70" x2="411.80" y2="305.60" stroke="#222" stroke-width="1.0" />
<line x1="409.60" y1="305.60" x2="414.00" y2="305.60" stroke="#111" stroke-width="1.3" />
<rect x="392.60" y="351.40" width="13.00" height="4.40" fill="#fff" stroke="#000" stroke-width="1.0"/>
<rect x="405.60" y="313.70" width="12.40" height="42.10" fill="#000" stroke="#000" stroke-width="1.0"/>
<text x="407.00" y="375.60" font-size="10.3" font-family='"Liberation Sans", sans-serif' fill="#000" font-weight="bold" text-anchor="middle" textLength="31.900000000000002" lengthAdjust="spacingAndGlyphs" stroke="#000" stroke-width="0.15">CFC-Meg</text>
<text x="407.00" y="389.50" font-size="10.3" font-family='"Liberation Sans", sans-serif' fill="#000" font-weight="bold" text-anchor="middle" textLength="22.5" lengthAdjust="spacingAndGlyphs" stroke="#000" stroke-width="0.15">x10e3</text>
<line x1="443.00" y1="350.00" x2="443.00" y2="348.40" stroke="#222" stroke-width="1.0" />
<line x1="440.80" y1="348.40" x2="445.20" y2="348.40" stroke="#111" stroke-width="1.3" />
<line x1="455.70" y1="332.50" x2="455.70" y2="329.80" stroke="#222" stroke-width="1.0" />
<line x1="453.50" y1="329.80" x2="457.90" y2="329.80" stroke="#111" stroke-width="1.3" />
<rect x="436.50" y="350.00" width="13.00" height="5.80" fill="#fff" stroke="#000" stroke-width="1.0"/>
<rect x="449.50" y="332.50" width="12.40" height="23.30" fill="#000" stroke="#000" stroke-width="1.0"/>
<text x="449.60" y="375.60" font-size="10.3" font-family='"Liberation Sans", sans-serif' fill="#000" font-weight="bold" text-anchor="middle" textLength="28.3" lengthAdjust="spacingAndGlyphs" stroke="#000" stroke-width="0.15">CFC-GM</text>
<text x="450.00" y="389.50" font-size="10.3" font-family='"Liberation Sans", sans-serif' fill="#000" font-weight="bold" text-anchor="middle" textLength="23.0" lengthAdjust="spacingAndGlyphs" stroke="#000" stroke-width="0.15">x10e4</text>
<line x1="486.60" y1="354.60" x2="486.60" y2="349.80" stroke="#222" stroke-width="1.0" />
<line x1="484.40" y1="349.80" x2="488.80" y2="349.80" stroke="#111" stroke-width="1.3" />
<line x1="499.30" y1="351.90" x2="499.30" y2="349.80" stroke="#222" stroke-width="1.0" />
<line x1="497.10" y1="349.80" x2="501.50" y2="349.80" stroke="#111" stroke-width="1.3" />
<rect x="480.10" y="354.60" width="13.00" height="1.20" fill="#fff" stroke="#000" stroke-width="1.0"/>
<rect x="493.10" y="351.90" width="12.40" height="3.90" fill="#000" stroke="#000" stroke-width="1.0"/>
<text x="493.50" y="375.60" font-size="10.3" font-family='"Liberation Sans", sans-serif' fill="#000" font-weight="bold" text-anchor="middle" textLength="35.2" lengthAdjust="spacingAndGlyphs" stroke="#000" stroke-width="0.15">CFC-multi</text>
<text x="493.80" y="389.50" font-size="10.3" font-family='"Liberation Sans", sans-serif' fill="#000" font-weight="bold" text-anchor="middle" textLength="23.0" lengthAdjust="spacingAndGlyphs" stroke="#000" stroke-width="0.15">x10e3</text>
<text x="0" y="0" font-size="10.0" font-family='"Liberation Sans", sans-serif' font-weight="bold" stroke="#000" stroke-width="0.35" transform="translate(276.80 297.40) scale(0.8 1) rotate(-90)" text-anchor="middle" textLength="108.8" lengthAdjust="spacingAndGlyphs">Colony no. per spleen</text>
<rect x="486.00" y="243.20" width="28.30" height="21.20" fill="#fff" stroke="#777" stroke-width="0.9"/>
<rect x="489.60" y="246.40" width="2.80" height="3.60" fill="#fff" stroke="#000" stroke-width="1"/>
<rect x="489.60" y="256.20" width="2.80" height="4.00" fill="#000" stroke="#000" stroke-width="1"/>
<text x="494.30" y="250.80" font-size="7.5" font-family='"Liberation Serif", serif' fill="#000" textLength="18.8" lengthAdjust="spacingAndGlyphs" stroke="#000" stroke-width="0.2">MSCV</text>
<text x="494.30" y="260.80" font-size="7.5" font-family='"Liberation Serif", serif' fill="#000" textLength="9.8" lengthAdjust="spacingAndGlyphs" stroke="#000" stroke-width="0.2">Dll4</text>
</svg></body></html>
